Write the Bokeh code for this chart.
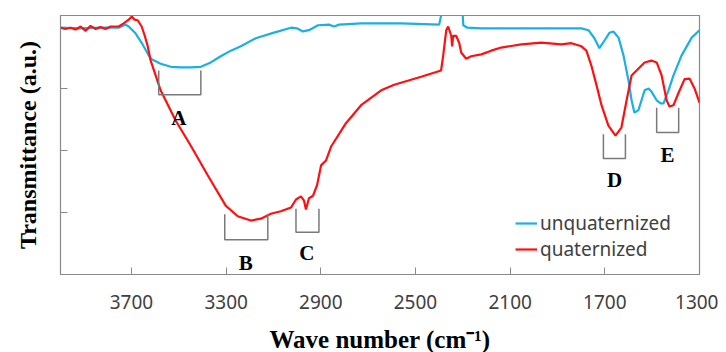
from bokeh.plotting import figure
from bokeh.models import Range1d, FixedTicker, Legend, LegendItem, ColumnDataSource
from bokeh.core.properties import value
from bokeh.embed import file_html
from bokeh.resources import INLINE

# ---- data ----
unq_wn = [4000, 3915, 3831, 3754, 3725, 3712, 3683, 3653, 3619, 3577, 3534, 3492, 3450, 3407,
          3365, 3323, 3280, 3238, 3175, 3098, 3026, 3001, 2976, 2950, 2912, 2866, 2844, 2823,
          2730, 2561, 2400, 2387, 2379, 2307, 2298, 2281, 2222, 2083, 1926, 1799, 1769, 1744,
          1723, 1702, 1680, 1664, 1642, 1621, 1600, 1587, 1575, 1558, 1545, 1532, 1515, 1503,
          1481, 1464, 1452, 1431, 1410, 1376, 1333, 1300]
unq_t = [3.98, 3.97, 3.98, 3.98, 4.03, 4.00, 3.89, 3.71, 3.48, 3.40, 3.35, 3.34, 3.34, 3.35,
         3.42, 3.52, 3.61, 3.68, 3.81, 3.90, 3.98, 3.97, 3.92, 3.94, 4.02, 4.03, 4.00, 4.03,
         4.05, 4.05, 4.03, 4.26, 4.60, 4.60, 4.02, 3.98, 3.97, 3.97, 3.97, 3.97, 3.94, 3.81,
         3.65, 3.77, 3.90, 3.92, 3.82, 3.53, 3.13, 2.81, 2.61, 2.65, 2.81, 2.97, 3.00, 2.95,
         2.81, 2.76, 2.76, 2.97, 3.21, 3.53, 3.82, 3.94]

q_wn = [4000, 3979, 3958, 3936, 3915, 3894, 3873, 3852, 3831, 3810, 3788, 3754, 3733, 3712,
        3699, 3687, 3674, 3657, 3644, 3632, 3619, 3598, 3577, 3556, 3513, 3450, 3378, 3302,
        3251, 3196, 3153, 3111, 3069, 3026, 3005, 2984, 2971, 2963, 2950, 2933, 2916, 2899,
        2878, 2857, 2794, 2730, 2645, 2590, 2476, 2392, 2383, 2370, 2362, 2349, 2345, 2341,
        2328, 2315, 2307, 2286, 2265, 2222, 2180, 2138, 2053, 1968, 1884, 1841, 1799, 1778,
        1757, 1735, 1714, 1685, 1655, 1630, 1608, 1587, 1566, 1532, 1503, 1481, 1460, 1439,
        1427, 1410, 1393, 1363, 1342, 1321, 1300]
q_t = [3.98, 3.96, 3.98, 3.95, 4.00, 3.93, 4.01, 3.96, 3.99, 3.96, 4.00, 4.00, 4.05, 4.11,
       4.16, 4.11, 4.10, 4.00, 3.85, 3.69, 3.45, 3.21, 2.97, 2.81, 2.48, 2.08, 1.60, 1.11,
       0.94, 0.87, 0.90, 0.98, 1.02, 1.08, 1.21, 1.26, 1.19, 1.05, 1.23, 1.27, 1.44, 1.76,
       1.84, 2.06, 2.44, 2.73, 2.97, 3.06, 3.19, 3.29, 3.53, 3.94, 4.00, 3.85, 3.68, 3.85,
       3.85, 3.73, 3.58, 3.48, 3.52, 3.55, 3.61, 3.66, 3.71, 3.74, 3.71, 3.73, 3.68, 3.61,
       3.37, 3.05, 2.73, 2.40, 2.24, 2.37, 2.81, 3.21, 3.29, 3.42, 3.45, 3.42, 3.21, 2.81,
       2.71, 2.73, 2.89, 3.15, 3.16, 3.00, 2.77]

x_ticks = [3700, 3300, 2900, 2500, 2100, 1700, 1300]
y_ticks = [1, 2, 3]

# peak brackets: label, left, right, top, bottom, label x, label y
br_labels = ["A", "B", "C", "D", "E"]
br_left = [3585, 3306, 3005, 1706, 1481]
br_right = [3407, 3124, 2908, 1613, 1388]
br_top = [3.29, 0.97, 1.06, 2.26, 2.69]
br_bottom = [2.90, 0.56, 0.68, 1.87, 2.29]
lab_x = [3500, 3217, 2959, 1659, 1435]
lab_y = [2.52, 0.19, 0.35, 1.52, 1.92]

AX = "#898989"
TXT = "#404040"

p = figure(width=718, height=344, output_backend="svg", toolbar_location=None,
           x_range=Range1d(4000, 1300), y_range=Range1d(0, 4.177),
           min_border_left=60, min_border_right=19, min_border_top=15, min_border_bottom=70)
p.frame_width = 639
p.frame_height = 259
p.grid.visible = False
p.outline_line_color = AX
p.outline_line_width = 1.2
p.background_fill_color = "white"

for ax in (p.xaxis[0], p.yaxis[0]):
    ax.axis_line_color = AX
    ax.major_tick_line_color = AX
    ax.major_tick_in = 7
    ax.major_tick_out = 0
    ax.minor_tick_line_color = None
    ax.axis_label_text_font = "Liberation Serif"
    ax.axis_label_text_font_style = "bold"
    ax.axis_label_text_color = "black"

p.xaxis.ticker = FixedTicker(ticks=x_ticks)
p.xaxis.major_label_text_font = "Noto Sans"
p.xaxis.major_label_text_font_size = "19px"
p.xaxis.major_label_text_color = TXT
p.xaxis.major_label_standoff = 20
p.xaxis.axis_label = "Wave number (cm\u207b\u00b9)"
p.xaxis.axis_label_text_font_size = "25px"
p.xaxis.axis_label_standoff = 14

p.yaxis.ticker = FixedTicker(ticks=y_ticks)
p.yaxis.major_label_overrides = {t: "" for t in y_ticks}
p.yaxis.major_label_standoff = 0
p.yaxis.axis_label = "Transmittance (a.u.)"
p.yaxis.axis_label_text_font_size = "24px"
p.yaxis.axis_label_standoff = 20

r_unq = p.line(unq_wn, unq_t, line_color="#1AAFE6", line_width=2.2)
r_q = p.line(q_wn, q_t, line_color="#FF1010", line_width=2.2)

for i in range(len(br_labels)):
    p.line([br_left[i], br_left[i], br_right[i], br_right[i]],
           [br_top[i], br_bottom[i], br_bottom[i], br_top[i]],
           line_color="#7a7a7a", line_width=1.5)

src = ColumnDataSource(dict(x=lab_x, y=lab_y, t=br_labels))
p.text(x="x", y="y", text="t", source=src, text_font=value("Liberation Serif"),
       text_font_style="bold", text_font_size="21px", text_align="center",
       text_baseline="middle", text_color="black")

legend = Legend(items=[LegendItem(label="unquaternized", renderers=[r_unq]),
                       LegendItem(label="quaternized", renderers=[r_q])],
                location=(455, 12))
legend.background_fill_alpha = 0
legend.border_line_alpha = 0
legend.padding = 0
legend.margin = 0
legend.spacing = 0
legend.glyph_width = 22
legend.glyph_height = 20
legend.label_height = 20
legend.label_standoff = 3
legend.label_text_font = "Noto Sans"
legend.label_text_font_size = "19px"
legend.label_text_color = TXT
p.add_layout(legend, "center")

open("out.html", "w").write(file_html(p, INLINE))
